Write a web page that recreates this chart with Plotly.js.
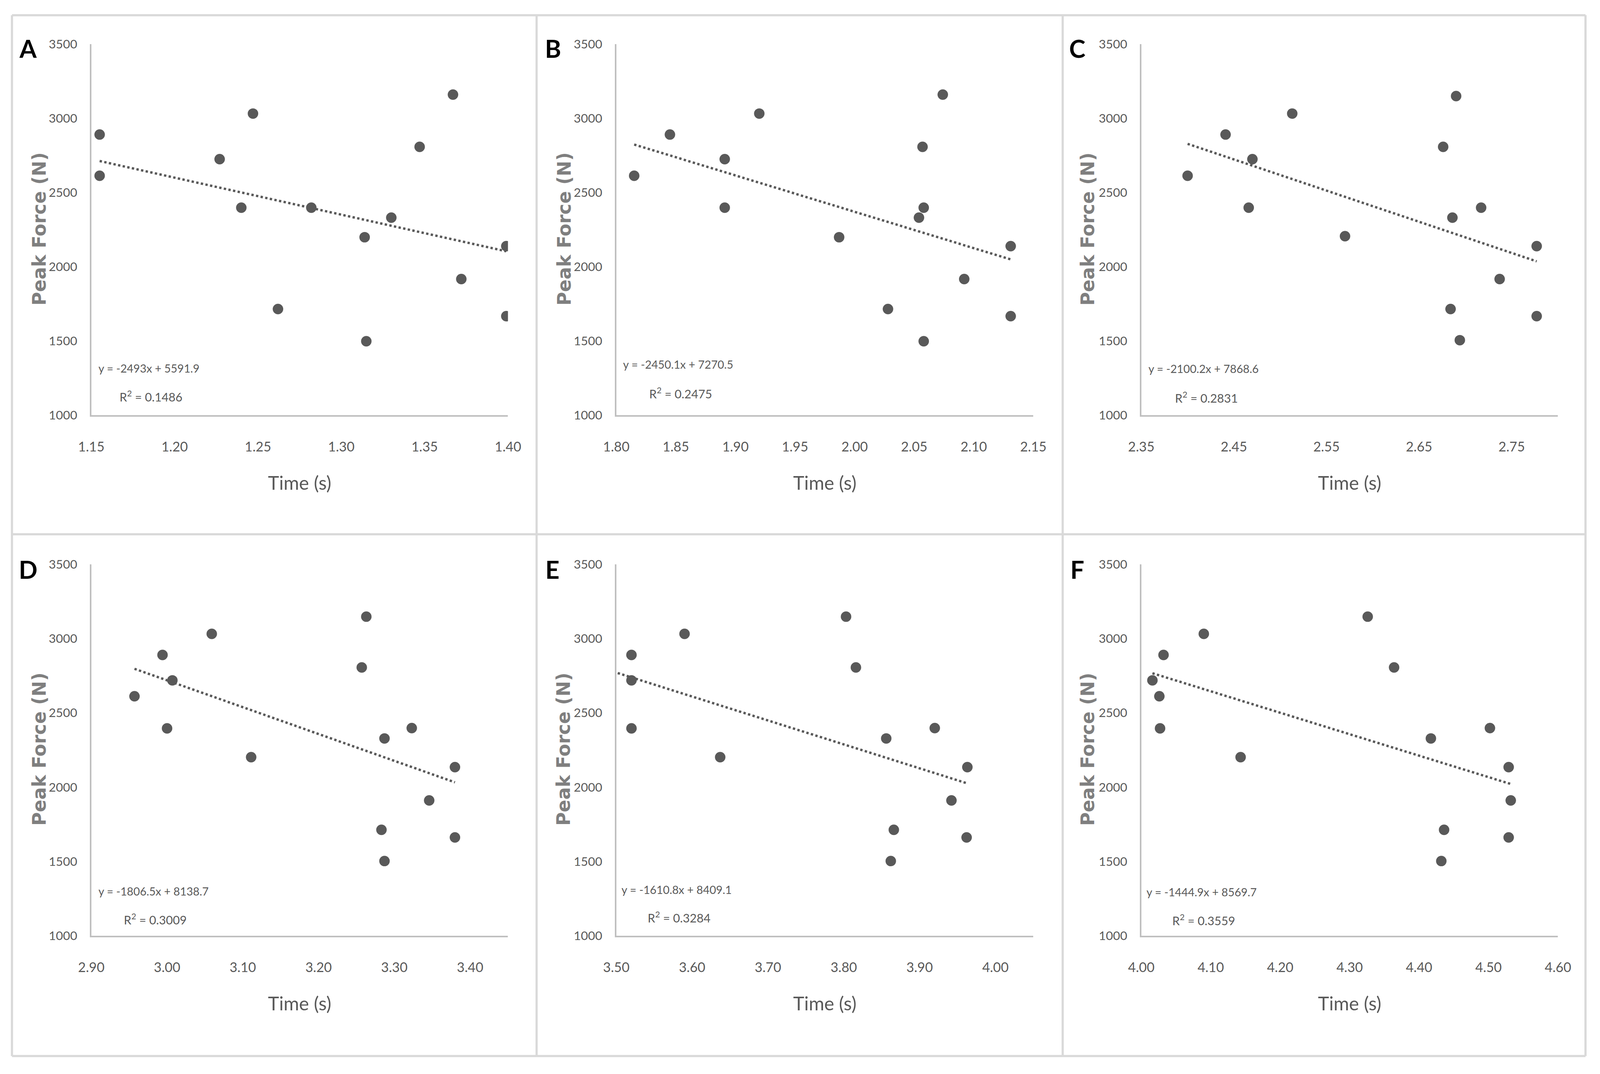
<!DOCTYPE html>
<html>
<head>
<meta charset="utf-8">
<script src="https://cdn.plot.ly/plotly-3.0.1.min.js"></script>
<style>
  html, body { margin: 0; padding: 0; background: #ffffff; overflow: hidden; }
  #chart { width: 100vw; height: 100vh; }
</style>
</head>
<body>
<div id="chart"></div>
<script>
// ---- Data ----
const panelLabels = ["A", "B", "C", "D", "E", "F"];

const timeA  = [1.155, 1.155, 1.227, 1.247, 1.240, 1.262, 1.282, 1.314, 1.315, 1.330, 1.347, 1.367, 1.372, 1.399, 1.399];
const forceA = [2891, 2613, 2725, 3032, 2398, 1715, 2398, 2199, 1498, 2331, 2808, 3160, 1917, 2139, 1667];

const timeB  = [1.815, 1.845, 1.891, 1.891, 1.920, 1.987, 2.028, 2.054, 2.057, 2.058, 2.058, 2.074, 2.092, 2.131, 2.131];
const forceB = [2613, 2891, 2725, 2398, 3032, 2199, 1715, 2331, 2808, 2398, 1498, 3160, 1917, 2139, 1667];

const timeC  = [2.400, 2.441, 2.470, 2.466, 2.513, 2.570, 2.676, 2.690, 2.686, 2.684, 2.694, 2.717, 2.737, 2.777, 2.777];
const forceC = [2613, 2891, 2725, 2398, 3032, 2206, 2808, 3150, 2331, 1715, 1505, 2398, 1917, 2139, 1667];

const timeD  = [2.957, 2.994, 3.007, 3.000, 3.059, 3.111, 3.257, 3.263, 3.287, 3.323, 3.283, 3.287, 3.346, 3.380, 3.380];
const forceD = [2612, 2890, 2719, 2396, 3032, 2202, 2806, 3148, 2328, 2398, 1713, 1503, 1911, 2135, 1662];

const timeE  = [3.490, 3.520, 3.520, 3.520, 3.590, 3.637, 3.803, 3.816, 3.856, 3.920, 3.866, 3.862, 3.942, 3.963, 3.962];
const forceE = [2612, 2890, 2719, 2396, 3032, 2202, 3148, 2806, 2328, 2398, 1713, 1503, 1911, 2135, 1662];

const timeF  = [4.016, 4.026, 4.027, 4.032, 4.090, 4.143, 4.326, 4.364, 4.417, 4.502, 4.436, 4.432, 4.532, 4.529, 4.529];
const forceF = [2719, 2612, 2396, 2890, 3032, 2202, 3148, 2806, 2328, 2398, 1713, 1503, 1911, 2135, 1662];

const slopes     = [-2493, -2450.1, -2100.2, -1806.5, -1610.8, -1444.9];
const intercepts = [5591.9, 7270.5, 7868.6, 8138.7, 8409.1, 8569.7];
const rSquared   = ["0.1486", "0.2475", "0.2831", "0.3009", "0.3284", "0.3559"];

const xTicksA = [1.15, 1.20, 1.25, 1.30, 1.35, 1.40];
const xTicksB = [1.80, 1.85, 1.90, 1.95, 2.00, 2.05, 2.10, 2.15];
const xTicksC = [2.35, 2.45, 2.55, 2.65, 2.75];
const xTicksD = [2.90, 3.00, 3.10, 3.20, 3.30, 3.40];
const xTicksE = [3.50, 3.60, 3.70, 3.80, 3.90, 4.00];
const xTicksF = [4.00, 4.10, 4.20, 4.30, 4.40, 4.50, 4.60];
const xRanges = [[1.15, 1.40], [1.80, 2.15], [2.35, 2.80], [2.90, 3.45], [3.50, 4.05], [4.00, 4.60]];
const yTicks  = [1000, 1500, 2000, 2500, 3000, 3500];
const yRange  = [1000, 3500];
const xTitle  = "Time (s)";
const yTitle  = "Peak Force (N)";

const times  = [timeA, timeB, timeC, timeD, timeE, timeF];
const forces = [forceA, forceB, forceC, forceD, forceE, forceF];
const xTicks = [xTicksA, xTicksB, xTicksC, xTicksD, xTicksE, xTicksF];

// ---- Layout geometry, in pixels of the 4416 x 2750 reference ----
const W = 4416, H = 2750;
const vw = window.innerWidth || W, vh = window.innerHeight || H;
const S = Math.min(vw / W, vh / H);
const colX = [[252, 1402], [1701, 2852], [3150, 4300]];
const rowY = [[113, 1063], [1445, 2396]];
const eqPos = [[269, 943, 328, 1014], [1717, 933, 1790, 1006], [3167, 944, 3241, 1017],
               [269, 2282, 340, 2353], [1713, 2278, 1785, 2348], [3162, 2284, 3233, 2355]];
const letterPos = [[78, 124], [1527, 123], [2974, 124], [78, 1457], [1524, 1457], [2973, 1457]];
const yTitlePos = [[108, 586], [1557, 586], [3002, 586], [108, 1918], [1555, 1918], [3002, 1918]];

const sans = "Lato, Carlito, Calibri, sans-serif";
const darkGray = "#595959";

const traces = [];
const layout = {
  width: vw, height: vh,
  margin: {l: 0, r: 0, t: 0, b: 0},
  paper_bgcolor: "#ffffff", plot_bgcolor: "#ffffff",
  showlegend: false,
  annotations: [], shapes: []
};

const px = v => v * S;

for (let i = 0; i < 6; i++) {
  const n = i + 1;
  const xa = n === 1 ? "x" : "x" + n;
  const ya = n === 1 ? "y" : "y" + n;
  const col = i % 3, row = Math.floor(i / 3);
  const t = times[i], f = forces[i];

  traces.push({
    type: "scatter", mode: "markers",
    x: t, y: f, xaxis: xa, yaxis: ya,
    marker: {color: darkGray, size: px(29)},
    hoverinfo: "x+y"
  });

  const xmin = Math.min(...t), xmax = Math.max(...t);
  traces.push({
    type: "scatter", mode: "lines",
    x: [xmin, xmax],
    y: [slopes[i] * xmin + intercepts[i], slopes[i] * xmax + intercepts[i]],
    xaxis: xa, yaxis: ya,
    line: {color: darkGray, width: px(6.5), dash: "dot"},
    hoverinfo: "skip"
  });

  const xKey = n === 1 ? "xaxis" : "xaxis" + n;
  const yKey = n === 1 ? "yaxis" : "yaxis" + n;
  layout[xKey] = {
    domain: [colX[col][0] / W, colX[col][1] / W],
    anchor: ya,
    range: xRanges[i],
    tickvals: xTicks[i],
    tickformat: ".2f",
    showgrid: false, zeroline: false,
    showline: true, linecolor: "#bfbfbf", linewidth: px(4),
    ticks: "outside", ticklen: px(52), tickcolor: "rgba(0,0,0,0)",
    tickfont: {family: sans, size: px(37), color: darkGray},
    title: {text: xTitle, standoff: px(64), font: {family: sans, size: px(52), color: darkGray}},
    automargin: false, fixedrange: true
  };
  layout[yKey] = {
    domain: [1 - rowY[row][1] / H, 1 - rowY[row][0] / H],
    anchor: xa,
    range: yRange,
    tickvals: yTicks,
    showgrid: false, zeroline: false,
    showline: true, linecolor: "#bfbfbf", linewidth: px(4),
    ticks: "outside", ticklen: px(28), tickcolor: "rgba(0,0,0,0)",
    tickfont: {family: sans, size: px(34), color: darkGray},
    automargin: false, fixedrange: true
  };

  // y-axis title
  const yp = yTitlePos[i];
  layout.annotations.push({
    xref: "paper", yref: "paper", x: yp[0] / W, y: 1 - yp[1] / H,
    xanchor: "center", yanchor: "middle", showarrow: false, textangle: -90,
    text: "<b>" + yTitle + "</b>",
    font: {family: "DejaVu Sans, Verdana, sans-serif", size: px(51), color: "#7f7f7f"}
  });

  // trendline equation and R²
  const p = eqPos[i];
  layout.annotations.push({
    xref: "paper", yref: "paper", x: p[0] / W, y: 1 - p[1] / H,
    xanchor: "left", yanchor: "middle", showarrow: false,
    text: "y = " + slopes[i] + "x + " + intercepts[i].toFixed(1),
    font: {family: sans, size: px(31), color: darkGray}
  });
  layout.annotations.push({
    xref: "paper", yref: "paper", x: p[2] / W, y: 1 - p[3] / H,
    xanchor: "left", yanchor: "middle", showarrow: false,
    text: "R<sup>2</sup> = " + rSquared[i],
    font: {family: sans, size: px(33), color: darkGray}
  });
  // panel letter
  const lp = letterPos[i];
  layout.annotations.push({
    xref: "paper", yref: "paper", x: lp[0] / W, y: 1 - lp[1] / H,
    xanchor: "center", yanchor: "middle", showarrow: false,
    text: "<b>" + panelLabels[i] + "</b>",
    font: {family: sans, size: px(68), color: "#000000"}
  });
}

// panel frames
const frameX = [33, 1481, 2933, 4376];
const frameY = [39, 1368, 2704];
const frameLine = {color: "#d9d9d9", width: px(6)};
for (const fx of frameX) {
  layout.shapes.push({type: "line", xref: "paper", yref: "paper",
    x0: fx / W, x1: fx / W, y0: 1 - frameY[0] / H, y1: 1 - frameY[2] / H, line: frameLine, layer: "below"});
}
for (const fy of frameY) {
  layout.shapes.push({type: "line", xref: "paper", yref: "paper",
    x0: frameX[0] / W, x1: frameX[3] / W, y0: 1 - fy / H, y1: 1 - fy / H, line: frameLine, layer: "below"});
}

Plotly.newPlot("chart", traces, layout, {displayModeBar: false, staticPlot: true});
</script>
</body>
</html>
